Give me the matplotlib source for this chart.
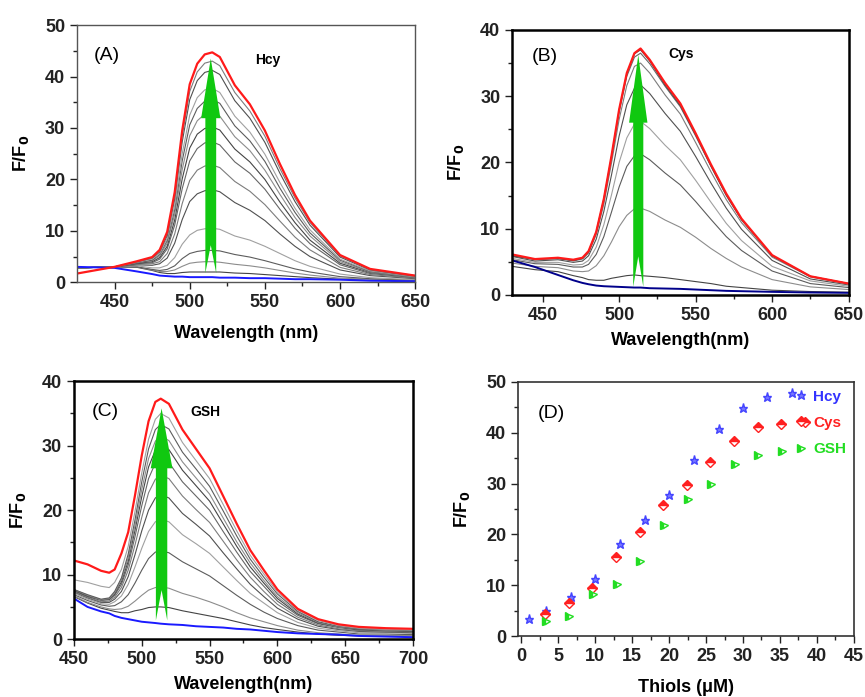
import numpy as np
import matplotlib
matplotlib.use("Agg")
import matplotlib.pyplot as plt
from matplotlib.patches import Polygon

plt.rcParams['font.family'] = ['Liberation Sans', 'DejaVu Sans']

# ---------------- Panel A (Hcy) ----------------
wl_a = [425, 450, 465, 475, 480, 485, 490, 495, 500, 505, 510, 515, 520, 530, 540, 550, 560, 570, 580, 600, 620, 650]
blue_a = [3.0, 2.8, 2.1, 1.6, 1.3, 1.2, 1.1, 1.1, 1.0, 1.0, 1.0, 1.0, 0.9, 0.9, 0.8, 0.8, 0.7, 0.6, 0.6, 0.5, 0.3, 0.2]
red_a = [1.7, 3.0, 4.1, 4.9, 6.3, 9.8, 17.5, 29.5, 38.5, 42.5, 44.3, 44.7, 43.8, 38.3, 34.6, 29.5, 23.0, 17.0, 12.0, 5.3, 2.6, 1.3]
gray_a = [
    [2.8, 3.0, 2.9, 2.3, 1.9, 1.7, 1.7, 1.9, 2.0, 2.0, 2.0, 2.0, 2.0, 1.8, 1.7, 1.5, 1.3, 1.1, 0.9, 0.6, 0.4, 0.3],
    [2.8, 3.0, 3.0, 2.4, 2.1, 2.1, 2.4, 3.1, 3.7, 3.9, 4.0, 4.0, 3.9, 3.5, 3.2, 2.8, 2.3, 1.8, 1.4, 0.8, 0.6, 0.4],
    [2.8, 3.0, 3.0, 2.5, 2.3, 2.5, 3.2, 4.6, 5.6, 6.0, 6.2, 6.2, 6.1, 5.4, 4.9, 4.2, 3.4, 2.6, 2.0, 1.1, 0.7, 0.4],
    [2.8, 3.0, 3.2, 2.8, 2.8, 3.3, 4.8, 7.4, 9.2, 10.1, 10.4, 10.5, 10.3, 9.0, 8.2, 7.0, 5.6, 4.2, 3.1, 1.6, 0.9, 0.5],
    [2.8, 3.0, 3.4, 3.3, 3.6, 4.7, 7.6, 12.2, 15.7, 17.2, 17.8, 18.0, 17.6, 15.5, 14.0, 12.0, 9.4, 7.0, 5.0, 2.4, 1.3, 0.7],
    [2.8, 3.0, 3.5, 3.6, 4.0, 5.6, 9.4, 15.3, 19.8, 21.8, 22.6, 22.8, 22.3, 19.6, 17.7, 15.1, 11.9, 8.8, 6.3, 2.9, 1.5, 0.8],
    [2.8, 3.0, 3.6, 3.8, 4.5, 6.5, 11.1, 18.2, 23.6, 26.0, 27.1, 27.3, 26.7, 23.4, 21.2, 18.1, 14.2, 10.5, 7.5, 3.4, 1.7, 0.9],
    [2.8, 3.0, 3.7, 4.0, 4.8, 7.0, 12.1, 20.1, 26.1, 28.8, 29.9, 30.2, 29.6, 25.9, 23.4, 20.0, 15.6, 11.6, 8.2, 3.7, 1.9, 1.0],
    [2.8, 3.0, 3.8, 4.2, 5.1, 7.6, 13.2, 21.9, 28.5, 31.4, 32.7, 33.0, 32.3, 28.3, 25.6, 21.8, 17.1, 12.6, 9.0, 4.0, 2.0, 1.0],
    [2.8, 3.0, 3.8, 4.3, 5.4, 8.1, 14.1, 23.6, 30.6, 33.8, 35.2, 35.5, 34.8, 30.4, 27.5, 23.5, 18.3, 13.6, 9.6, 4.3, 2.1, 1.1],
    [2.8, 3.0, 3.9, 4.5, 5.6, 8.5, 14.9, 25.0, 32.5, 35.9, 37.4, 37.7, 36.9, 32.3, 29.2, 24.9, 19.4, 14.4, 10.2, 4.5, 2.2, 1.1],
    [2.8, 3.0, 4.0, 4.7, 5.9, 9.1, 16.2, 27.3, 35.5, 39.2, 40.8, 41.2, 40.4, 35.3, 31.9, 27.2, 21.2, 15.7, 11.1, 4.9, 2.4, 1.2],
    [2.8, 3.0, 4.0, 4.8, 6.1, 9.5, 16.9, 28.4, 37.1, 40.9, 42.6, 43.0, 42.1, 36.9, 33.3, 28.4, 22.1, 16.4, 11.6, 5.1, 2.5, 1.3],
]

# ---------------- Panel B (Cys) ----------------
wl_b = [430, 445, 460, 470, 476, 480, 485, 490, 495, 500, 505, 510, 514, 520, 530, 540, 550, 560, 570, 580, 600, 625, 650]
blue_b = [5.2, 4.2, 3.0, 2.2, 1.8, 1.6, 1.4, 1.3, 1.25, 1.2, 1.15, 1.1, 1.1, 1.0, 0.95, 0.9, 0.8, 0.7, 0.6, 0.55, 0.45, 0.35, 0.3]
red_b = [6.1, 5.4, 5.6, 5.3, 5.6, 6.6, 9.5, 14.5, 21.0, 28.0, 33.5, 36.5, 37.2, 35.5, 32.0, 28.9, 24.4, 19.7, 15.3, 11.5, 6.0, 2.8, 1.7]
gray_b = [
    [4.3, 3.8, 3.5, 2.9, 2.6, 2.3, 2.2, 2.2, 2.5, 2.7, 2.9, 3.0, 2.9, 2.8, 2.6, 2.3, 2.0, 1.7, 1.3, 1.1, 0.7, 0.5, 0.4],
    [4.8, 4.3, 4.1, 3.6, 3.5, 3.6, 4.4, 5.9, 8.0, 10.3, 12.0, 13.0, 13.1, 12.6, 11.3, 10.2, 8.7, 7.0, 5.5, 4.2, 2.3, 1.2, 0.8],
    [5.3, 4.7, 4.6, 4.2, 4.2, 4.6, 6.1, 8.8, 12.5, 16.3, 19.4, 21.0, 21.3, 20.4, 18.4, 16.6, 14.1, 11.4, 8.8, 6.7, 3.6, 1.7, 1.1],
    [5.5, 4.9, 4.9, 4.5, 4.6, 5.2, 7.2, 10.6, 15.1, 20.0, 23.7, 25.8, 26.2, 25.1, 22.6, 20.4, 17.3, 14.0, 10.8, 8.2, 4.3, 2.1, 1.3],
    [5.8, 5.1, 5.3, 4.9, 5.1, 5.9, 8.4, 12.6, 18.1, 24.0, 28.7, 31.2, 31.7, 30.4, 27.4, 24.7, 20.9, 16.9, 13.1, 9.9, 5.2, 2.4, 1.5],
    [5.9, 5.3, 5.5, 5.1, 5.4, 6.3, 9.1, 13.7, 19.9, 26.5, 31.6, 34.5, 35.0, 33.5, 30.2, 27.3, 23.0, 18.6, 14.4, 10.9, 5.7, 2.7, 1.6],
    [5.9, 5.4, 5.5, 5.2, 5.5, 6.5, 9.4, 14.3, 20.7, 27.6, 33.0, 35.9, 36.5, 34.9, 31.5, 28.4, 24.0, 19.4, 15.0, 11.3, 5.9, 2.8, 1.7],
    [5.9, 5.4, 5.5, 5.2, 5.5, 6.5, 9.5, 14.5, 20.9, 27.9, 33.4, 36.4, 37.0, 35.3, 31.7, 28.6, 24.2, 19.5, 15.1, 11.4, 5.9, 2.8, 1.7],
]

# ---------------- Panel C (GSH) ----------------
wl_c = [450, 460, 470, 476, 480, 485, 490, 495, 500, 505, 510, 514, 520, 530, 540, 550, 560, 570, 580, 590, 600, 615, 630, 645, 660, 680, 700]
blue_c = [6.3, 5.0, 4.3, 4.0, 3.6, 3.3, 3.1, 2.9, 2.7, 2.6, 2.5, 2.4, 2.3, 2.2, 2.0, 1.9, 1.8, 1.6, 1.5, 1.3, 1.1, 0.9, 0.8, 0.7, 0.5, 0.4, 0.3]
red_c = [12.2, 11.6, 10.6, 10.3, 10.8, 13.3, 16.6, 22.3, 28.5, 33.8, 36.8, 37.3, 36.5, 32.5, 29.5, 26.5, 22.2, 17.9, 13.8, 10.7, 7.7, 4.7, 3.1, 2.3, 1.9, 1.7, 1.6]
gray_c = [
    [6.6, 5.6, 4.8, 4.5, 4.3, 4.1, 4.1, 4.4, 4.6, 4.9, 5.0, 5.0, 4.9, 4.4, 4.0, 3.6, 3.2, 2.7, 2.2, 1.8, 1.5, 1.1, 0.8, 0.6, 0.5, 0.5, 0.5],
    [6.7, 5.7, 5.0, 4.7, 4.6, 4.7, 5.1, 5.9, 6.8, 7.6, 8.0, 8.1, 7.9, 7.1, 6.5, 5.8, 5.0, 4.1, 3.3, 2.7, 2.1, 1.4, 1.0, 0.8, 0.6, 0.6, 0.6],
    [6.9, 6.0, 5.3, 5.1, 5.2, 5.8, 6.9, 8.7, 10.7, 12.5, 13.5, 13.7, 13.4, 12.0, 10.9, 9.8, 8.3, 6.8, 5.4, 4.2, 3.2, 2.1, 1.4, 1.1, 0.8, 0.8, 0.7],
    [7.1, 6.2, 5.5, 5.4, 5.8, 6.7, 8.5, 11.2, 14.1, 16.7, 18.2, 18.6, 18.2, 16.2, 14.8, 13.3, 11.2, 9.1, 7.1, 5.6, 4.1, 2.6, 1.7, 1.3, 1.0, 1.0, 0.9],
    [7.3, 6.4, 5.7, 5.7, 6.2, 7.4, 9.7, 13.1, 16.8, 20.0, 21.9, 22.4, 21.9, 19.5, 17.8, 16.0, 13.4, 10.9, 8.5, 6.6, 4.8, 3.1, 2.0, 1.5, 1.2, 1.1, 1.0],
    [7.4, 6.5, 5.8, 5.9, 6.5, 8.0, 10.7, 14.6, 18.9, 22.7, 24.8, 25.4, 24.9, 22.2, 20.1, 18.1, 15.2, 12.3, 9.6, 7.4, 5.4, 3.4, 2.2, 1.6, 1.3, 1.2, 1.1],
    [7.5, 6.6, 6.0, 6.1, 6.8, 8.5, 11.5, 15.9, 20.7, 24.9, 27.3, 28.0, 27.4, 24.4, 22.2, 20.0, 16.7, 13.5, 10.5, 8.2, 5.9, 3.7, 2.4, 1.8, 1.4, 1.3, 1.2],
    [7.6, 6.7, 6.1, 6.2, 7.0, 8.9, 12.1, 16.9, 22.1, 26.7, 29.3, 30.0, 29.4, 26.2, 23.8, 21.4, 17.9, 14.4, 11.2, 8.7, 6.3, 3.9, 2.5, 1.9, 1.5, 1.4, 1.2],
    [7.7, 6.8, 6.1, 6.3, 7.2, 9.2, 12.6, 17.6, 23.2, 28.0, 30.7, 31.5, 30.8, 27.5, 25.0, 22.5, 18.8, 15.1, 11.8, 9.1, 6.6, 4.1, 2.6, 1.9, 1.6, 1.4, 1.3],
    [7.7, 6.9, 6.2, 6.4, 7.4, 9.5, 13.2, 18.5, 24.4, 29.5, 32.5, 33.3, 32.6, 29.0, 26.4, 23.7, 19.9, 16.0, 12.4, 9.6, 7.0, 4.3, 2.7, 2.0, 1.6, 1.5, 1.3],
    [9.2, 8.8, 8.2, 8.0, 8.8, 10.8, 14.4, 19.8, 25.8, 31.0, 34.1, 35.0, 34.3, 30.5, 27.7, 24.9, 20.9, 16.8, 13.0, 10.1, 7.3, 4.5, 2.9, 2.1, 1.7, 1.5, 1.4],
]

# ---------------- Panel D (titration) ----------------
hcy_x = [1.0, 3.3, 6.7, 10.0, 13.3, 16.7, 20.0, 23.3, 26.7, 30.0, 33.3, 36.7]
hcy_y = [3.4, 4.9, 7.7, 11.2, 18.1, 22.8, 27.7, 34.7, 40.7, 44.8, 47.1, 47.8]
cys_x = [3.2, 6.4, 9.6, 12.8, 16.0, 19.2, 22.4, 25.6, 28.8, 32.0, 35.2, 38.4]
cys_y = [4.3, 6.5, 9.4, 15.5, 20.5, 25.7, 29.8, 34.3, 38.4, 41.2, 41.8, 42.2]
gsh_x = [3.3, 6.5, 9.7, 12.9, 16.1, 19.3, 22.5, 25.7, 28.9, 32.1, 35.3]
gsh_y = [2.9, 3.9, 8.2, 10.3, 14.8, 21.8, 26.9, 30.0, 33.8, 35.6, 36.5]

gray_shades = ['#444444', '#8c8c8c', '#5c5c5c', '#a0a0a0', '#505050', '#7c7c7c', '#666666']
arrow_green = '#10c810'

fig = plt.figure(figsize=(8.65, 6.97), dpi=100)


def style_axes(ax, edge='#555555', lw=1.0):
    for sp in ax.spines.values():
        sp.set_color(edge)
        sp.set_linewidth(lw)
    ax.tick_params(which='both', direction='out', top=False, right=False,
                   labelsize=13, colors='#222222')
    ax.tick_params(which='major', length=5, width=1)
    ax.tick_params(which='minor', length=3, width=1)
    for lab in ax.get_xticklabels() + ax.get_yticklabels():
        lab.set_fontweight('bold')


def green_arrow(ax, xc, y0, yn, yh, yt, sw, hw):
    pts = [(xc - sw, y0), (xc, yn), (xc + sw, y0), (xc + sw, yh),
           (xc + hw, yh), (xc, yt), (xc - hw, yh), (xc - sw, yh)]
    ax.add_patch(Polygon(pts, closed=True, facecolor=arrow_green,
                         edgecolor='none', zorder=10))


def spectra(ax, wl, grays, blue, red, blue_col='#1a1aff'):
    for i, g in enumerate(grays):
        ax.plot(wl, g, color=gray_shades[i % len(gray_shades)], lw=0.8)
    ax.plot(wl, blue, color=blue_col, lw=1.4)
    ax.plot(wl, red, color='#ff1a1a', lw=1.6)


# Panel A
axA = fig.add_axes([0.089, 0.595, 0.391, 0.369])
spectra(axA, wl_a, gray_a, blue_a, red_a)
green_arrow(axA, 514, 1.8, 7.2, 31.9, 43.5, 3.6, 6.4)
axA.set_xlim(425, 650)
axA.set_ylim(0, 50)
axA.set_xticks([450, 500, 550, 600, 650])
axA.set_xticks([475, 525, 575, 625], minor=True)
axA.set_yticks([0, 10, 20, 30, 40, 50])
axA.set_yticks([5, 15, 25, 35, 45], minor=True)
style_axes(axA)
axA.set_xlabel('Wavelength (nm)', fontsize=13, fontweight='bold', labelpad=10)
axA.set_ylabel('F/F$_\\mathbf{0}$', fontsize=13, fontweight='bold', labelpad=10)
axA.text(0.089, 0.883, '(A)', transform=axA.transAxes, fontsize=14,
         ha='center', va='center')
axA.text(0.565, 0.864, 'Hcy', transform=axA.transAxes, fontsize=10,
         fontweight='bold', ha='center', va='center')

# Panel B
axB = fig.add_axes([0.592, 0.577, 0.389, 0.380])
spectra(axB, wl_b, gray_b, blue_b, red_b, blue_col='#00008b')
green_arrow(axB, 512.5, 1.2, 5.8, 26.0, 36.2, 3.3, 6.0)
axB.set_xlim(430, 650)
axB.set_ylim(0, 40)
axB.set_xticks([450, 500, 550, 600, 650])
axB.set_xticks([475, 525, 575, 625], minor=True)
axB.set_yticks([0, 10, 20, 30, 40])
axB.set_yticks([5, 15, 25, 35], minor=True)
style_axes(axB, edge='#000000', lw=1.8)
axB.set_xlabel('Wavelength(nm)', fontsize=13, fontweight='bold', labelpad=6)
axB.set_ylabel('F/F$_\\mathbf{0}$', fontsize=13, fontweight='bold', labelpad=10)
axB.text(0.097, 0.899, '(B)', transform=axB.transAxes, fontsize=14,
         ha='center', va='center')
axB.text(0.502, 0.908, 'Cys', transform=axB.transAxes, fontsize=10,
         fontweight='bold', ha='center', va='center')

# Panel C
axC = fig.add_axes([0.0855, 0.083, 0.392, 0.370])
spectra(axC, wl_c, gray_c, blue_c, red_c)
green_arrow(axC, 514.6, 2.9, 7.6, 26.5, 35.8, 4.2, 8.0)
axC.set_xlim(450, 700)
axC.set_ylim(0, 40)
axC.set_xticks([450, 500, 550, 600, 650, 700])
axC.set_xticks([475, 525, 575, 625, 675], minor=True)
axC.set_yticks([0, 10, 20, 30, 40])
axC.set_yticks([5, 15, 25, 35], minor=True)
style_axes(axC, edge='#000000', lw=1.8)
axC.set_xlabel('Wavelength(nm)', fontsize=13, fontweight='bold', labelpad=6)
axC.set_ylabel('F/F$_\\mathbf{0}$', fontsize=13, fontweight='bold', labelpad=10)
axC.text(0.091, 0.881, '(C)', transform=axC.transAxes, fontsize=14,
         ha='center', va='center')
axC.text(0.389, 0.881, 'GSH', transform=axC.transAxes, fontsize=10,
         fontweight='bold', ha='center', va='center')

# Panel D
axD = fig.add_axes([0.599, 0.0875, 0.388, 0.3645])
axD.plot(hcy_x, hcy_y, ls='none', marker='*', ms=6.5, color='#4444ff',
         markerfacecolor='#7777ff', label='Hcy')
axD.plot(cys_x, cys_y, ls='none', marker='D', ms=5.5, color='#ff2020',
         fillstyle='top', markerfacecoloralt='white', mew=1.0, label='Cys')
axD.plot(gsh_x, gsh_y, ls='none', marker='>', ms=6, color='#22dd22',
         fillstyle='left', markerfacecoloralt='white', mew=1.0, label='GSH')
axD.set_xlim(-0.45, 45)
axD.set_ylim(0, 50)
axD.set_xticks([0, 5, 10, 15, 20, 25, 30, 35, 40, 45])
axD.set_xticks(np.arange(2.5, 45, 5), minor=True)
axD.set_yticks([0, 10, 20, 30, 40, 50])
axD.set_yticks([5, 15, 25, 35, 45], minor=True)
style_axes(axD, edge='#333333', lw=1.2)
axD.set_xlabel('Thiols (\u03bcM)', fontsize=13, fontweight='bold', labelpad=10)
axD.set_ylabel('F/F$_\\mathbf{0}$', fontsize=13, fontweight='bold', labelpad=10)
axD.text(0.1, 0.877, '(D)', transform=axD.transAxes, fontsize=14,
         ha='center', va='center')
leg = axD.legend(loc='upper right', frameon=False, numpoints=1,
                 handletextpad=0.4, labelspacing=0.8, borderaxespad=0.1,
                 handlelength=0.8, prop={'weight': 'bold', 'size': 11})
for txt, col in zip(leg.get_texts(), ['#3333ff', '#ff2020', '#22dd22']):
    txt.set_color(col)

fig.savefig('out.png', dpi=100)
